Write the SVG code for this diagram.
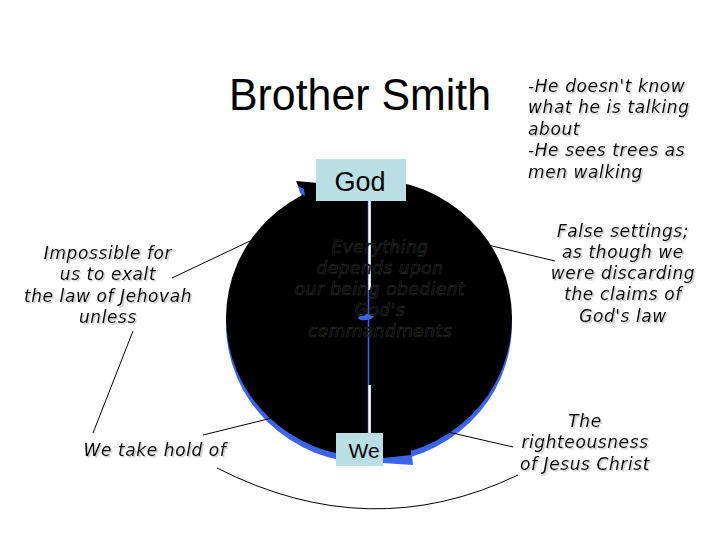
<svg xmlns="http://www.w3.org/2000/svg" width="720" height="540" viewBox="0 0 720 540">
<defs>
<filter id="sh" x="-10%" y="-10%" width="120%" height="130%">
<feDropShadow dx="1.5" dy="1.5" stdDeviation="0.6" flood-color="#a0a0a0" flood-opacity="0.6"/>
</filter>
<style>
.lbl{font-family:"DejaVu Sans",Verdana,sans-serif;font-style:italic;font-size:17px;letter-spacing:0.6px;fill:#000;filter:url(#sh)}
.mid{text-anchor:middle}
.box{fill:#b9dfe4}
.bt{font-family:"Liberation Sans",Arial,sans-serif;fill:#000;text-anchor:middle}
.emb{font-family:"DejaVu Sans",Verdana,sans-serif;font-style:italic;font-size:17px;letter-spacing:0.5px;fill:#000;stroke:#2e2e2e;stroke-width:0.6;text-anchor:middle}
.con{fill:none;stroke:#000;stroke-width:1}
.blue{fill:#3c64e8}
</style>
</defs>
<rect width="720" height="540" fill="#fff"/>

<g id="title">
<text x="360" y="110" class="bt" font-size="44" textLength="262" lengthAdjust="spacingAndGlyphs">Brother Smith</text>
</g>

<g id="cycle">
<ellipse cx="369" cy="324" rx="143" ry="139" class="blue"/>
<ellipse cx="369" cy="318" rx="143" ry="139" fill="#000"/>
<polygon points="383,456 411,446 413,465 383,463" class="blue"/>
<polygon points="383,454 411,443 411,455 383,458" fill="#000"/>
<polygon points="296,181 318,183 318,205 303,198" fill="#000"/>
<polygon points="298,186 304,189 305,196 300,193" class="blue"/>
<line x1="368.5" y1="201" x2="368.5" y2="433" stroke="#3c64e8" stroke-width="1.5"/>
<line x1="369.6" y1="201" x2="369.6" y2="290" stroke="#fff" stroke-width="2.5"/>
<line x1="369.6" y1="385" x2="369.6" y2="433" stroke="#fff" stroke-width="2.5"/>
<ellipse cx="366" cy="317" rx="8" ry="3" class="blue" transform="rotate(-8 366 317)"/>
<text class="emb"><tspan x="380" y="253">Everything</tspan><tspan x="380" y="274">depends upon</tspan><tspan x="380" y="295">our being obedient</tspan><tspan x="380" y="316">God's</tspan><tspan x="380" y="337">commandments</tspan></text>
</g>

<g id="god">
<rect x="316" y="159" width="90" height="42" class="box"/>
<text x="360" y="191" class="bt" font-size="27">God</text>
</g>

<g id="we">
<rect x="336" y="433" width="47" height="33" class="box"/>
<text x="364" y="458" class="bt" font-size="21">We</text>
</g>

<g id="note-brother">
<text class="lbl"><tspan x="528" y="92">-He doesn't know</tspan><tspan x="528" y="113">what he is talking</tspan><tspan x="528" y="135">about</tspan><tspan x="528" y="156">-He sees trees as</tspan><tspan x="528" y="178">men walking</tspan></text>
</g>

<g id="note-impossible">
<text class="lbl mid"><tspan x="108" y="259">Impossible for</tspan><tspan x="108" y="280">us to exalt</tspan><tspan x="108" y="302">the law of Jehovah</tspan><tspan x="108" y="323">unless</tspan></text>
</g>

<g id="note-takehold">
<text x="155" y="456" class="lbl mid">We take hold of</text>
</g>

<g id="note-false">
<text class="lbl mid"><tspan x="623" y="237">False settings;</tspan><tspan x="623" y="258">as though we</tspan><tspan x="623" y="279">were discarding</tspan><tspan x="623" y="300">the claims of</tspan><tspan x="623" y="322">God's law</tspan></text>
</g>

<g id="note-righteous">
<text class="lbl mid"><tspan x="585" y="427">The</tspan><tspan x="585" y="448">righteousness</tspan><tspan x="585" y="470">of Jesus Christ</tspan></text>
</g>

<g id="connectors">
<line x1="172" y1="278" x2="250" y2="241" class="con"/>
<line x1="133" y1="331" x2="93" y2="433" class="con"/>
<line x1="203" y1="435" x2="272" y2="418" class="con"/>
<line x1="488" y1="245" x2="555" y2="261" class="con"/>
<line x1="448" y1="432" x2="513" y2="447" class="con"/>
<path d="M217,468 Q370,546 518,475" class="con"/>
</g>
</svg>
